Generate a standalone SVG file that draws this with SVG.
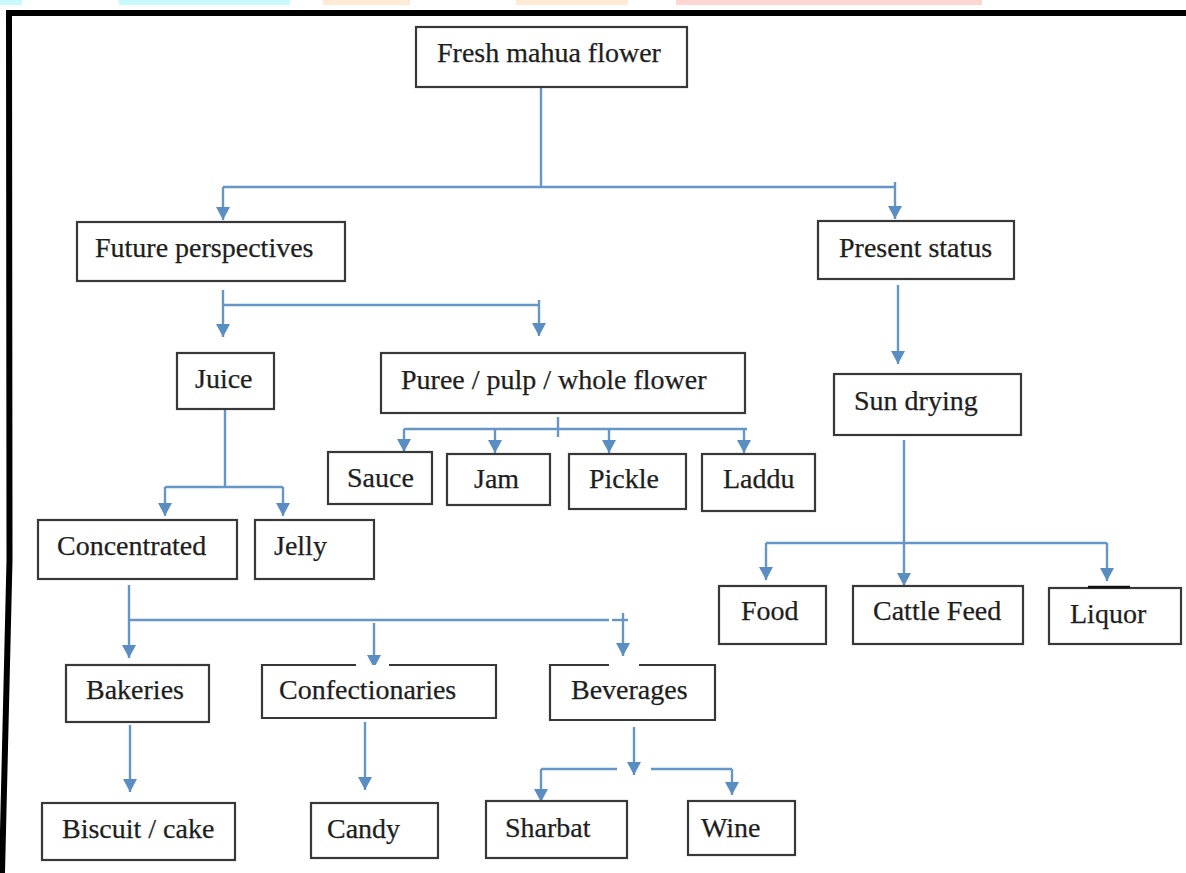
<svg xmlns="http://www.w3.org/2000/svg" width="1186" height="873" viewBox="0 0 1186 873">
  <style>
    .box { fill: #ffffff; stroke: #383838; stroke-width: 2.2; }
    .edge { fill: none; stroke: #383838; stroke-width: 2.2; }
    .lbl { font-family: "Liberation Serif", "Times New Roman", serif; font-size: 28px; fill: #1e1e1e; stroke: #1e1e1e; stroke-width: 0.25; }
    .wire { fill: none; stroke: #6596c6; stroke-width: 2.4; }
    .arrow { fill: none; stroke: #6596c6; stroke-width: 2.4; marker-end: url(#tip); }
  </style>
  <defs>
    <marker id="tip" markerUnits="userSpaceOnUse" markerWidth="15" markerHeight="15" refX="13" refY="7" orient="auto">
      <path d="M0,0 L13,7 L0,14 z" fill="#5a8ec3"/>
    </marker>
  </defs>

  <!-- page background and frame -->
  <rect x="0" y="0" width="1186" height="873" fill="#ffffff"/>
  <g id="top-strip">
    <rect x="0" y="0" width="22" height="5" fill="#c8fafd"/>
    <rect x="119" y="0" width="171" height="5" fill="#c8fafd"/>
    <rect x="323" y="0" width="87" height="5" fill="#ffead6"/>
    <rect x="516" y="0" width="112" height="5" fill="#ffead6"/>
    <rect x="676" y="0" width="306" height="5" fill="#ffd6d2"/>
  </g>
  <g id="frame">
    <line x1="6" y1="13" x2="1186" y2="13" stroke="#000000" stroke-width="6"/>
    <polyline points="9,10 9.5,560 2,873" fill="none" stroke="#000000" stroke-width="6"/>
  </g>

  <!-- connectors -->
  <g id="connectors">
    <!-- fresh flower split -->
    <line class="wire" x1="541" y1="88" x2="541" y2="188"/>
    <line class="wire" x1="223" y1="187" x2="895" y2="187"/>
    <line class="arrow" x1="223" y1="187" x2="223" y2="220"/>
    <line class="arrow" x1="895" y1="182" x2="895" y2="219"/>
    <!-- future perspectives split -->
    <line class="arrow" x1="223" y1="290" x2="223" y2="337"/>
    <line class="wire" x1="223" y1="305" x2="539" y2="305"/>
    <line class="arrow" x1="539" y1="300" x2="539" y2="336"/>
    <!-- present status -->
    <line class="arrow" x1="898" y1="285" x2="898" y2="364"/>
    <!-- juice split -->
    <line class="wire" x1="225" y1="410" x2="225" y2="487"/>
    <line class="wire" x1="165" y1="487" x2="283" y2="487"/>
    <line class="arrow" x1="165" y1="487" x2="165" y2="516"/>
    <line class="arrow" x1="283" y1="487" x2="283" y2="516"/>
    <!-- puree split -->
    <line class="wire" x1="558" y1="417" x2="558" y2="437"/>
    <line class="wire" x1="404" y1="429" x2="747" y2="429"/>
    <line class="arrow" x1="404" y1="429" x2="404" y2="452"/>
    <line class="arrow" x1="495" y1="429" x2="495" y2="453"/>
    <line class="arrow" x1="609" y1="429" x2="609" y2="453"/>
    <line class="arrow" x1="744" y1="429" x2="744" y2="453"/>
    <!-- sun drying split -->
    <line class="arrow" x1="904" y1="440" x2="904" y2="586"/>
    <line class="wire" x1="766" y1="543" x2="1107" y2="543"/>
    <line class="arrow" x1="766" y1="543" x2="766" y2="580"/>
    <line class="arrow" x1="1107" y1="543" x2="1107" y2="581"/>
    <!-- concentrated split -->
    <line class="arrow" x1="129" y1="585" x2="129" y2="658"/>
    <line class="wire" x1="128" y1="620" x2="609" y2="620"/>
    <line class="wire" x1="612" y1="620" x2="628" y2="620"/>
    <line class="arrow" x1="374" y1="623" x2="374" y2="668"/>
    <line class="arrow" x1="623" y1="613" x2="623" y2="656"/>
    <!-- bakeries, confectionaries -->
    <line class="arrow" x1="130" y1="725" x2="130" y2="792"/>
    <line class="arrow" x1="365" y1="722" x2="365" y2="790"/>
    <!-- beverages split -->
    <line class="arrow" x1="634" y1="727" x2="634" y2="775"/>
    <line class="wire" x1="541" y1="769" x2="617" y2="769"/>
    <line class="wire" x1="651" y1="769" x2="732" y2="769"/>
    <line class="arrow" x1="541" y1="769" x2="541" y2="802"/>
    <line class="arrow" x1="732" y1="769" x2="732" y2="795"/>
  </g>

  <!-- nodes -->
  <g id="fresh-mahua-flower">
    <rect class="box" x="416" y="27" width="271" height="60"/>
    <text class="lbl" x="437" y="62">Fresh mahua flower</text>
  </g>
  <g id="future-perspectives">
    <rect class="box" x="77" y="222" width="268" height="59"/>
    <text class="lbl" x="95" y="257">Future perspectives</text>
  </g>
  <g id="present-status">
    <rect class="box" x="818" y="221" width="196" height="58"/>
    <text class="lbl" x="839" y="257">Present status</text>
  </g>
  <g id="juice">
    <rect class="box" x="177" y="353" width="97" height="56"/>
    <text class="lbl" x="195" y="388">Juice</text>
  </g>
  <g id="puree">
    <rect class="box" x="381" y="353" width="364" height="60"/>
    <text class="lbl" x="401" y="389">Puree / pulp / whole flower</text>
  </g>
  <g id="sun-drying">
    <rect class="box" x="834" y="374" width="187" height="61"/>
    <text class="lbl" x="854" y="410">Sun drying</text>
  </g>
  <g id="sauce">
    <rect class="box" x="328" y="452" width="104" height="52"/>
    <text class="lbl" x="347" y="487">Sauce</text>
  </g>
  <g id="jam">
    <rect class="box" x="447" y="454" width="103" height="51"/>
    <text class="lbl" x="474" y="488">Jam</text>
  </g>
  <g id="pickle">
    <rect class="box" x="569" y="454" width="117" height="55"/>
    <text class="lbl" x="589" y="488">Pickle</text>
  </g>
  <g id="laddu">
    <rect class="box" x="702" y="454" width="113" height="57"/>
    <text class="lbl" x="723" y="488">Laddu</text>
  </g>
  <g id="concentrated">
    <rect class="box" x="38" y="520" width="199" height="59"/>
    <text class="lbl" x="57" y="555">Concentrated</text>
  </g>
  <g id="jelly">
    <rect class="box" x="255" y="520" width="119" height="59"/>
    <text class="lbl" x="274" y="555">Jelly</text>
  </g>
  <g id="food">
    <rect class="box" x="719" y="586" width="107" height="58"/>
    <text class="lbl" x="741" y="620">Food</text>
  </g>
  <g id="cattle-feed">
    <rect class="box" x="853" y="586" width="170" height="58"/>
    <text class="lbl" x="873" y="620">Cattle Feed</text>
  </g>
  <g id="liquor">
    <rect class="box" x="1049" y="588" width="132" height="56"/>
    <line x1="1088" y1="587" x2="1130" y2="587" stroke="#111111" stroke-width="2.6"/>
    <text class="lbl" x="1070" y="623">Liquor</text>
  </g>
  <g id="bakeries">
    <rect class="box" x="66" y="665" width="143" height="57"/>
    <text class="lbl" x="86" y="699">Bakeries</text>
  </g>
  <g id="confectionaries">
    <rect x="262" y="665" width="234" height="53" fill="#ffffff"/>
    <path class="edge" d="M356,665 H262 V718 H496 V665 H389"/>
    <text class="lbl" x="279" y="699">Confectionaries</text>
  </g>
  <g id="beverages">
    <rect x="550" y="665" width="165" height="55" fill="#ffffff"/>
    <path class="edge" d="M609,665 H550 V720 H715 V665 H639"/>
    <text class="lbl" x="571" y="699">Beverages</text>
  </g>
  <g id="biscuit-cake">
    <rect class="box" x="42" y="803" width="193" height="57"/>
    <text class="lbl" x="62" y="838">Biscuit / cake</text>
  </g>
  <g id="candy">
    <rect class="box" x="311" y="803" width="127" height="55"/>
    <text class="lbl" x="327" y="838">Candy</text>
  </g>
  <g id="sharbat">
    <rect class="box" x="486" y="801" width="141" height="57"/>
    <text class="lbl" x="505" y="837">Sharbat</text>
  </g>
  <g id="wine">
    <rect class="box" x="688" y="801" width="107" height="54"/>
    <text class="lbl" x="701" y="837">Wine</text>
  </g>
</svg>
